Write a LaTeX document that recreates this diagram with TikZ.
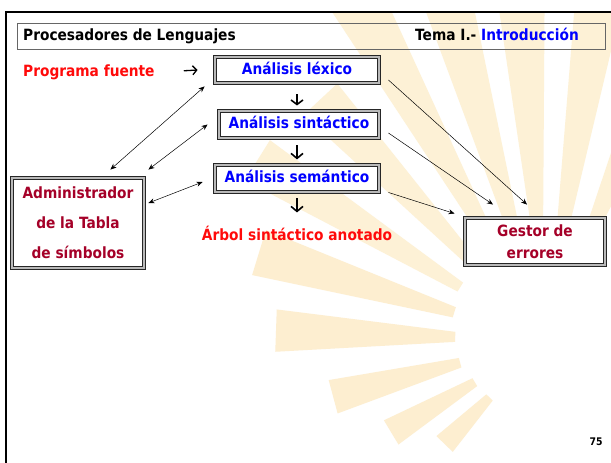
\documentclass[tikz,border=0pt]{standalone}
\usepackage{fontspec}
\setmainfont{DejaVu Sans}[FakeStretch=0.887]
\usetikzlibrary{arrows.meta,calc}
\definecolor{azul}{RGB}{0,0,255}
\definecolor{rojo}{RGB}{255,10,10}
\definecolor{granate}{RGB}{165,0,40}
\definecolor{sol}{RGB}{253,238,208}
\definecolor{solclaro}{RGB}{253,241,214}
\newcommand{\letra}{\fontsize{15.5}{19}\selectfont\bfseries}
\begin{document}
\begin{tikzpicture}[x=1pt,y=-1pt,
  caja/.style={draw=black!85,line width=0.9pt,double=gray!55,double distance=2pt,
    fill=white,inner sep=0pt,font=\letra,text height=11pt,text depth=3pt},
  texto/.style={inner sep=0pt,font=\letra},
  paso/.style={line width=1.6pt,-{Straight Barb[length=5pt,width=12pt]}},
  flecha/.style={line width=0.5pt,-{Stealth[length=6pt,width=5pt]}},
  doble/.style={line width=0.5pt,{Stealth[length=6pt,width=5pt]}-{Stealth[length=6pt,width=5pt]}}]
\useasboundingbox (0,0) rectangle (611,463);
\fill[white] (0,0) rectangle (611,463);
\begin{scope}
\clip (6,12) rectangle (611,463);
\begin{scope}[shift={(545,340)},yscale=-1]
\foreach \a/\ra/\rb in {226/80/145,211/82/180,195/88/220,178/90/270,163/95/300}
  \fill[sol] ({\a-3.2}:\ra) -- ({\a-4.5}:\rb) -- ({\a+4.5}:\rb) -- ({\a+3.2}:\ra) -- cycle;
\foreach \a/\ra/\rb in {148/100/340,133/105/330,119/110/400,106/110/400,94/110/400,81/110/400,67/120/400}
  \fill[solclaro] ({\a-3}:\ra) -- ({\a-4}:\rb) -- ({\a+4}:\rb) -- ({\a+3}:\ra) -- cycle;
\end{scope}
\end{scope}
\draw[line width=2.5pt] (6,463) -- (6,12) -- (611,12);
\draw[gray!80!black,line width=0.8pt] (17,23) rectangle (605,49);
\node[texto,anchor=base west] (titulo) at (23,41) {Procesadores de Lenguajes};
\node[texto,anchor=base east] (tema) at (579,41) {Tema I.- \textcolor{azul}{Introducción}};
\node[texto,anchor=base west,text=rojo] (fuente) at (23,76) {Programa fuente};
\node[caja,minimum width=164pt,minimum height=26pt,text=azul] (lex) at (297,70) {Análisis léxico};
\node[caja,minimum width=160pt,minimum height=27pt,text=azul] (sin) at (299,124.5) {Análisis sintáctico};
\node[caja,minimum width=164pt,minimum height=27pt,text=azul] (sem) at (297,178.5) {Análisis semántico};
\node[texto,anchor=base,text=rojo] (arbol) at (297,240) {Árbol sintáctico anotado};
\node[caja,text height=,text depth=,align=center,font=\fontsize{15.5}{30}\selectfont\bfseries,
  minimum width=132pt,minimum height=90pt,text=granate] (adm) at (78,223)
  {Administrador\\de la Tabla\\de símbolos};
\node[caja,text height=,text depth=,align=center,font=\fontsize{15.5}{22}\selectfont\bfseries,
  minimum width=140pt,minimum height=47pt,text=granate] (ges) at (535,241.5)
  {Gestor de\\errores};
\node[texto,font=\fontsize{10.5}{12}\selectfont\bfseries] (pag) at (596,442) {75};
\draw[paso,line width=1.3pt,-{Straight Barb[length=4pt,width=9pt]}] ($(fuente.east)+(29,-1)$) -- ($(lex.west)+(-17,0)$);
\draw[paso,-{Straight Barb[length=4.5pt,width=12pt]}] ($(lex.south)+(0,11)$) -- ($(lex.south)+(0,22)$);
\draw[paso] ($(sin.south)+(-2,7)$) -- ($(sin.south)+(-2,21)$);
\draw[paso] ($(sem.south)+(0,6)$) -- ($(sem.south)+(0,20)$);
\draw[doble] ($(adm.north east)+(-34,-8)$) -- ($(lex.south west)+(-10,3)$);
\draw[doble] ($(adm.north east)+(4,-8)$) -- ($(sin.west)+(-11,0)$);
\draw[doble] ($(adm.east)+(4,-20)$) -- ($(sem.west)+(-12,3.5)$);
\draw[flecha] ($(lex.east)+(9,10)$) -- ($(ges.north)+(-8,-13)$);
\draw[flecha] ($(sin.east)+(9,8.5)$) -- ($(ges.north)+(-42,-13)$);
\draw[flecha] ($(sem.south east)+(9,0)$) -- ($(ges.north west)+(-10,-4)$);
\end{tikzpicture}
\end{document}
